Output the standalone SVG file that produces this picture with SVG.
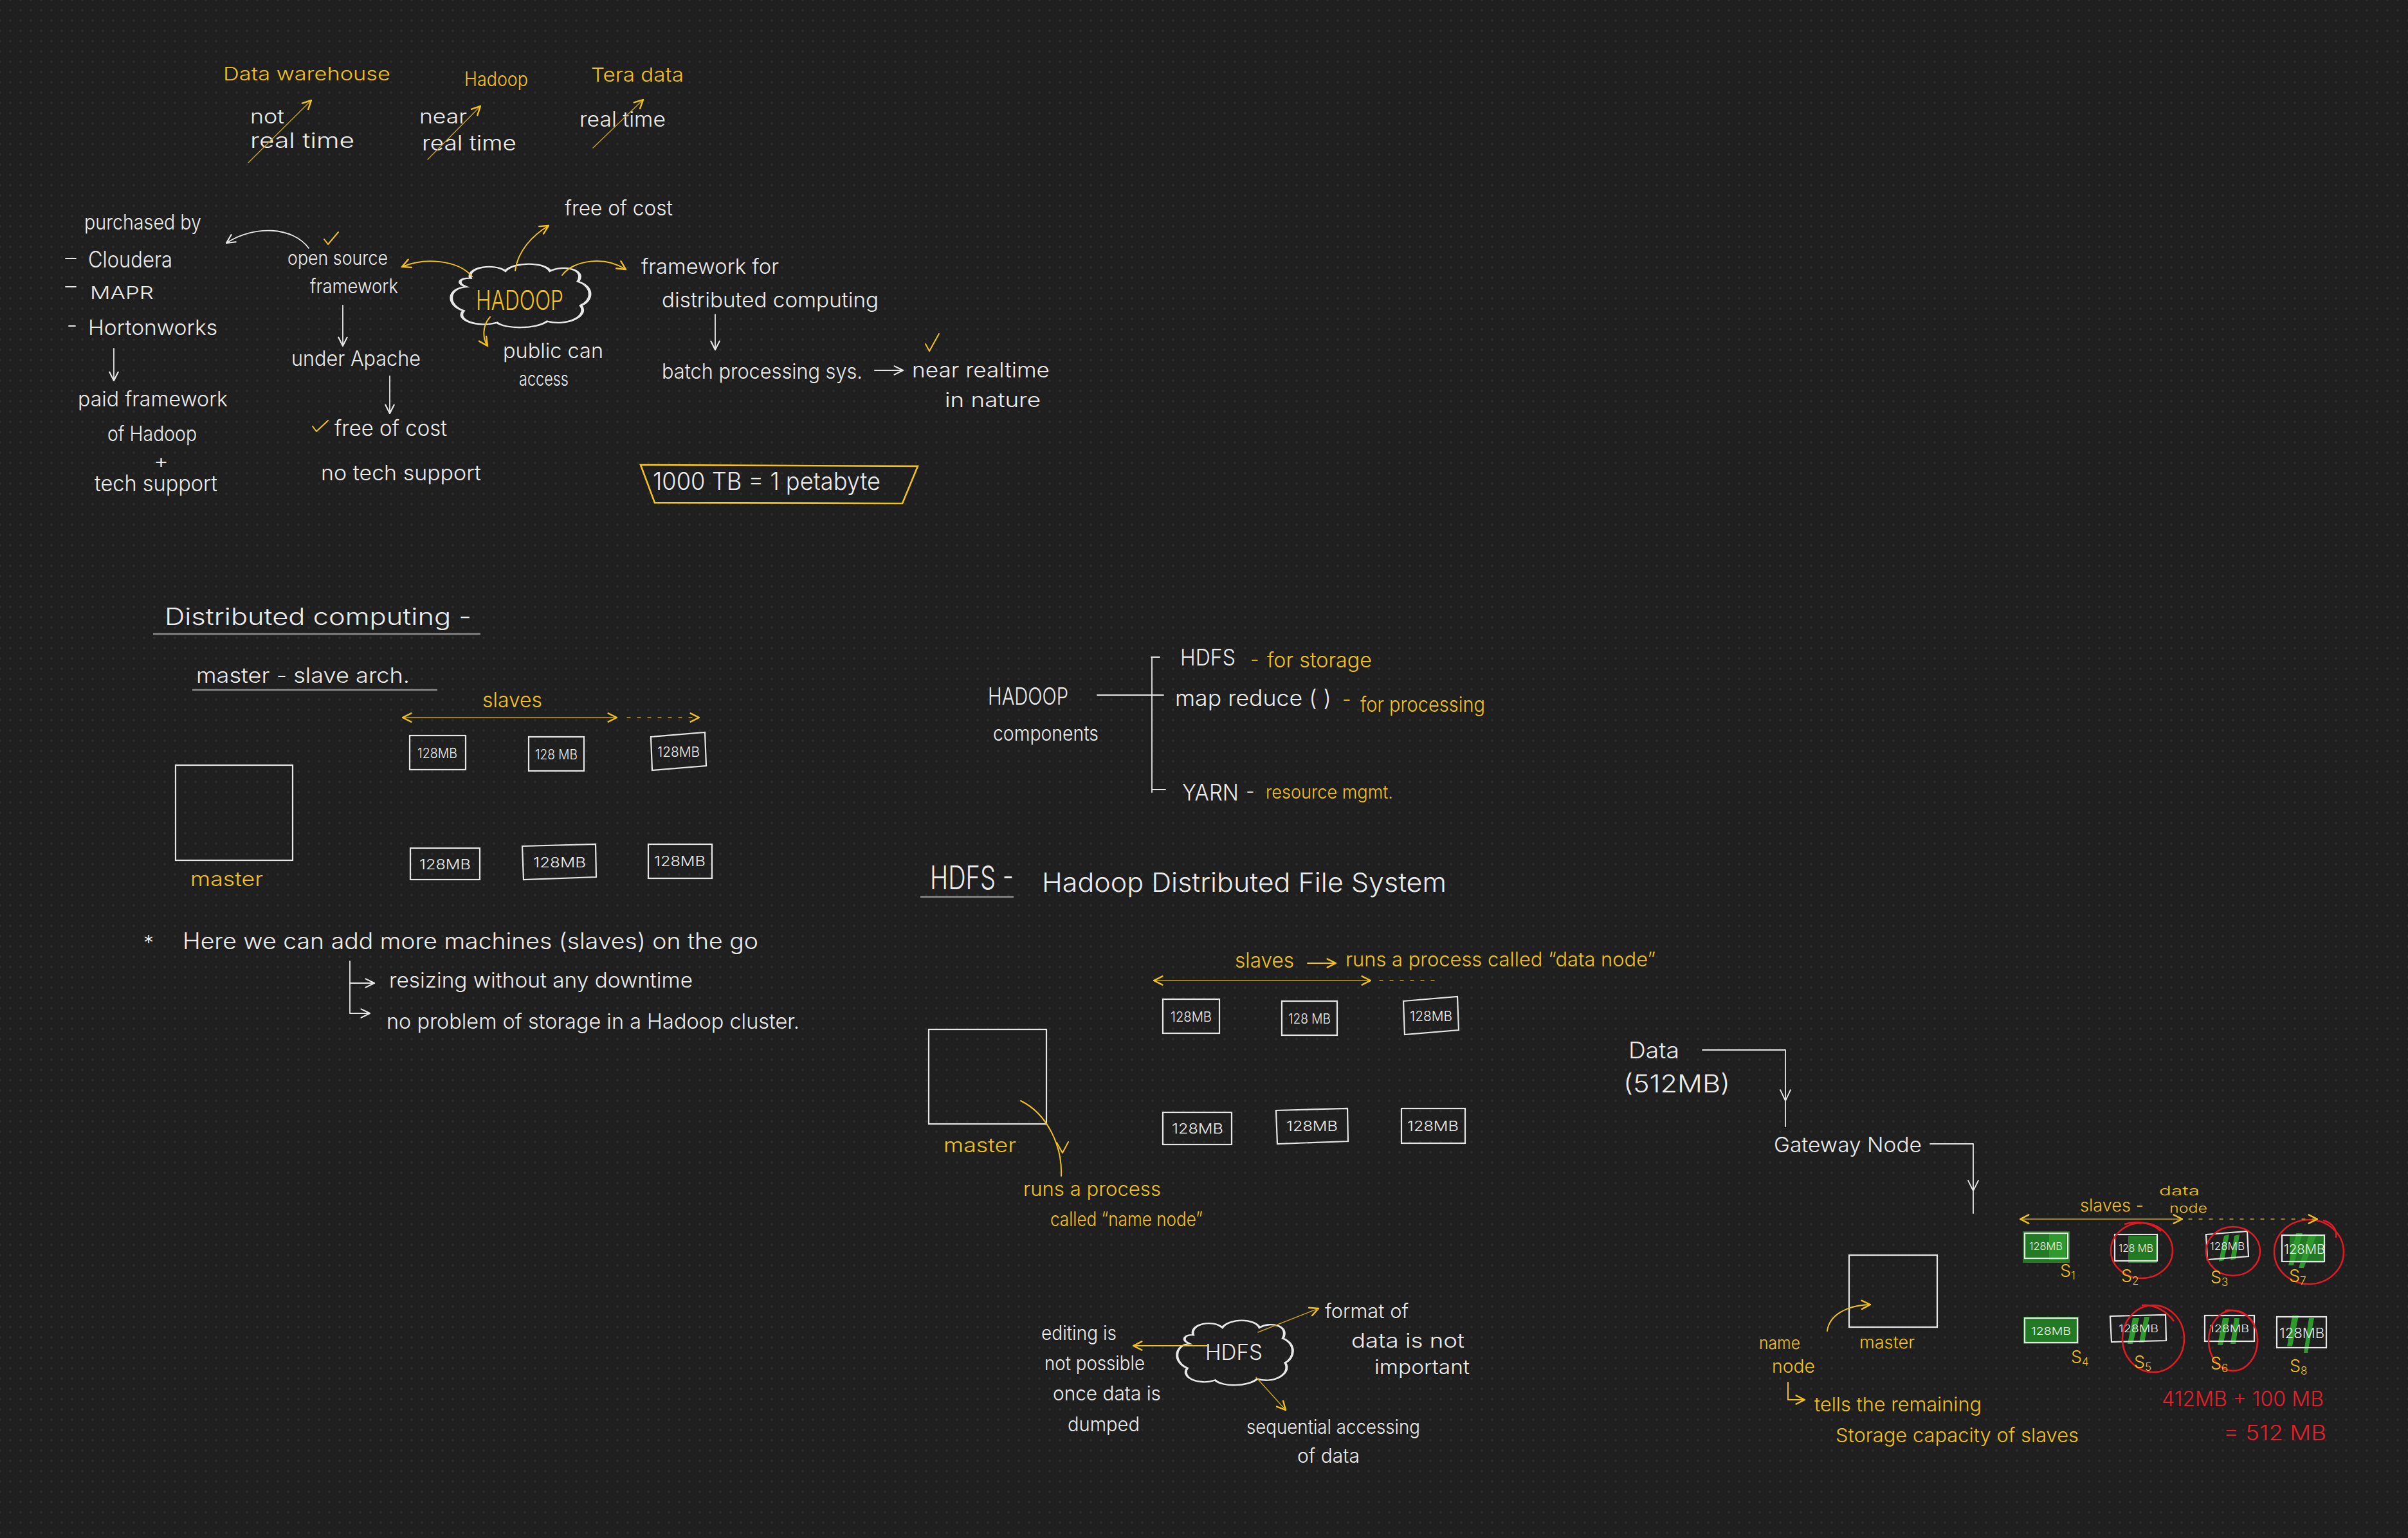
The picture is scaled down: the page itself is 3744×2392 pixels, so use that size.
<svg xmlns="http://www.w3.org/2000/svg" width="3744" height="2392" viewBox="0 0 3744 2392">
<defs>
  <pattern id="dots" x="8" y="8" width="16" height="16" patternUnits="userSpaceOnUse">
    <circle cx="8" cy="8" r="1.7" fill="#2d2d2d"/>
  </pattern>
  <!-- normalised cloud outline, 0..100 in both axes -->
  <path id="cloud" d="M15,25 C12,8 32,2 40,14 C46,0 68,0 72,14 C82,4 98,12 92,30 C104,38 102,60 94,66 C100,82 84,98 70,90 C62,102 40,102 34,92 C20,100 4,88 10,74 C-2,66 -2,40 12,38 C4,32 8,24 15,25 Z"/>
  <marker id="aw" viewBox="0 0 12 12" refX="11" refY="6" markerWidth="16" markerHeight="16" markerUnits="userSpaceOnUse" orient="auto-start-reverse">
    <path d="M1,1 L11,6 L1,11" fill="none" stroke="#e8e8e8" stroke-width="1.6" stroke-linecap="round"/>
  </marker>
  <marker id="ay" viewBox="0 0 12 12" refX="11" refY="6" markerWidth="16" markerHeight="16" markerUnits="userSpaceOnUse" orient="auto-start-reverse">
    <path d="M1,1 L11,6 L1,11" fill="none" stroke="#f2c21b" stroke-width="1.8" stroke-linecap="round"/>
  </marker>
  <style>
    text { font-family: Inter, "Liberation Sans", "Noto Sans", sans-serif; font-weight: 300; }
    .w { fill: #ececec; }
    .y { fill: #f2c21b; }
    .r { fill: #e5202a; }
    .box { fill: none; stroke: #e6e6e6; stroke-width: 2.2; }
    .lw { fill: none; stroke: #e6e6e6; stroke-width: 1.8; stroke-linecap: round; stroke-linejoin: round; }
    .ly { fill: none; stroke: #f2c21b; stroke-width: 2; stroke-linecap: round; stroke-linejoin: round; }
    .lyt { fill: none; stroke: #c9a316; stroke-width: 1.4; stroke-linecap: round; }
    .dash { stroke-dasharray: 5 11; }
    .ul { stroke: #8c8c8c; stroke-width: 2.5; }
    .cl { fill: none; stroke: #e8e8e8; stroke-width: 2.2; }
    .red { fill: none; stroke: #e01b24; stroke-width: 2.6; }
    .gr { fill: #237a25; }
    .gs { fill: #2e9a2e; }
    .mb { font-size: 22px; }
    .sb { font-size: 16px; }
  </style>
</defs>

<rect width="3744" height="2392" fill="#1f1f1f"/>
<rect width="3744" height="2392" fill="url(#dots)"/>

<!-- ===== comparison: warehouse / hadoop / teradata ===== -->
<g id="warehouse">
  <text class="y" x="347" y="125" font-size="28" textLength="260" lengthAdjust="spacingAndGlyphs">Data warehouse</text>
  <text class="w" x="389" y="192" font-size="30" textLength="53" lengthAdjust="spacingAndGlyphs">not</text>
  <text class="w" x="389" y="230" font-size="32" textLength="162" lengthAdjust="spacingAndGlyphs">real time</text>
</g>
<g id="hadoop-rt">
  <text class="y" x="722" y="134" font-size="31" textLength="99" lengthAdjust="spacingAndGlyphs">Hadoop</text>
  <text class="w" x="652" y="192" font-size="30" textLength="74" lengthAdjust="spacingAndGlyphs">near</text>
  <text class="w" x="656" y="234" font-size="32" textLength="147" lengthAdjust="spacingAndGlyphs">real time</text>
</g>
<g id="teradata">
  <text class="y" x="919" y="127" font-size="30" textLength="144" lengthAdjust="spacingAndGlyphs">Tera data</text>
  <text class="w" x="901" y="197" font-size="32" textLength="134" lengthAdjust="spacingAndGlyphs">real time</text>
</g>

<!-- ===== hadoop overview ===== -->
<g id="purchased">
  <text class="w" x="131" y="357" font-size="33" textLength="182" lengthAdjust="spacingAndGlyphs">purchased by</text>
  <text class="w" x="137" y="416" font-size="35" textLength="131" lengthAdjust="spacingAndGlyphs">Cloudera</text>
  <text class="w" x="140" y="465" font-size="27" textLength="99" lengthAdjust="spacingAndGlyphs">MAPR</text>
  <text class="w" x="137" y="521" font-size="33" textLength="201" lengthAdjust="spacingAndGlyphs">Hortonworks</text>
  <path class="lw" d="M102,402 H118 M102,446 H118 M107,507 H117"/>
</g>
<g id="paid">
  <text class="w" x="121" y="632" font-size="33" textLength="233" lengthAdjust="spacingAndGlyphs">paid framework</text>
  <text class="w" x="167" y="686" font-size="33" textLength="139" lengthAdjust="spacingAndGlyphs">of Hadoop</text>
  <text class="w" x="239" y="728" font-size="30" textLength="23" lengthAdjust="spacingAndGlyphs">+</text>
  <text class="w" x="147" y="764" font-size="35" textLength="191" lengthAdjust="spacingAndGlyphs">tech support</text>
</g>
<g id="opensource">
  <text class="w" x="447" y="412" font-size="31" textLength="156" lengthAdjust="spacingAndGlyphs">open source</text>
  <text class="w" x="482" y="456" font-size="31" textLength="137" lengthAdjust="spacingAndGlyphs">framework</text>
  <path class="ly" d="M504,372 L510,380 L526,361"/>
</g>
<g id="apache">
  <text class="w" x="453" y="569" font-size="33" textLength="201" lengthAdjust="spacingAndGlyphs">under Apache</text>
</g>
<g id="freecost1">
  <path class="ly" d="M486,663 L492,671 L510,654"/>
  <text class="w" x="520" y="678" font-size="35" textLength="175" lengthAdjust="spacingAndGlyphs">free of cost</text>
  <text class="w" x="499" y="747" font-size="33" textLength="249" lengthAdjust="spacingAndGlyphs">no tech support</text>
</g>
<g id="hadoop-cloud">
  <use href="#cloud" class="cl" vector-effect="non-scaling-stroke" transform="translate(699,407) scale(2.17,1.03)"/>
  <text class="y" x="740" y="482" font-size="42" textLength="136" lengthAdjust="spacingAndGlyphs">HADOOP</text>
</g>
<g id="freecost2">
  <text class="w" x="878" y="335" font-size="33" textLength="168" lengthAdjust="spacingAndGlyphs">free of cost</text>
</g>
<g id="public">
  <text class="w" x="782" y="557" font-size="33" textLength="156" lengthAdjust="spacingAndGlyphs">public can</text>
  <text class="w" x="807" y="600" font-size="31" textLength="77" lengthAdjust="spacingAndGlyphs">access</text>
</g>
<g id="framework">
  <text class="w" x="997" y="426" font-size="33" textLength="214" lengthAdjust="spacingAndGlyphs">framework for</text>
  <text class="w" x="1029" y="478" font-size="33" textLength="337" lengthAdjust="spacingAndGlyphs">distributed computing</text>
</g>
<g id="batch">
  <text class="w" x="1029" y="589" font-size="33" textLength="312" lengthAdjust="spacingAndGlyphs">batch processing sys.</text>
</g>
<g id="nearrt">
  <path class="ly" d="M1439,535 L1445,546 L1460,519"/>
  <text class="w" x="1418" y="587" font-size="33" textLength="214" lengthAdjust="spacingAndGlyphs">near realtime</text>
  <text class="w" x="1469" y="633" font-size="31" textLength="149" lengthAdjust="spacingAndGlyphs">in nature</text>
</g>
<g id="petabyte">
  <polygon points="996,723 1427,725 1403,783 1018,782" fill="none" stroke="#f2c21b" stroke-width="2.6"/>
  <text class="w" x="1015" y="762" font-size="38" textLength="354" lengthAdjust="spacingAndGlyphs">1000 TB = 1 petabyte</text>
</g>

<!-- ===== distributed computing ===== -->
<g id="dist-title">
  <text class="w" x="256" y="972" font-size="37" textLength="477" lengthAdjust="spacingAndGlyphs">Distributed computing -</text>
  <line class="ul" x1="238" y1="986" x2="747" y2="986"/>
  <text class="w" x="305" y="1062" font-size="33" textLength="332" lengthAdjust="spacingAndGlyphs">master - slave arch.</text>
  <line class="ul" x1="299" y1="1073" x2="680" y2="1073" stroke-width="1.6"/>
</g>
<g id="dc-slaves">
  <text class="y" x="750" y="1100" font-size="33" textLength="93" lengthAdjust="spacingAndGlyphs">slaves</text>
  <rect class="box" x="637" y="1144" width="87" height="53"/>
  <text class="w mb" x="680" y="1179" text-anchor="middle" textLength="62" lengthAdjust="spacingAndGlyphs">128MB</text>
  <rect class="box" x="822" y="1146" width="86" height="53"/>
  <text class="w mb" x="865" y="1181" text-anchor="middle" textLength="66" lengthAdjust="spacingAndGlyphs">128 MB</text>
  <polygon class="box" points="1012,1146 1096,1139 1098,1191 1014,1198"/>
  <text class="w mb" x="1055" y="1177" text-anchor="middle" textLength="66" lengthAdjust="spacingAndGlyphs">128MB</text>
  <rect class="box" x="638" y="1319" width="108" height="49"/>
  <text class="w mb" x="692" y="1352" text-anchor="middle" textLength="80" lengthAdjust="spacingAndGlyphs">128MB</text>
  <polygon class="box" points="812,1316 926,1313 927,1364 814,1368"/>
  <text class="w mb" x="870" y="1349" text-anchor="middle" textLength="82" lengthAdjust="spacingAndGlyphs">128MB</text>
  <rect class="box" x="1008" y="1313" width="99" height="53"/>
  <text class="w mb" x="1057" y="1347" text-anchor="middle" textLength="80" lengthAdjust="spacingAndGlyphs">128MB</text>
</g>
<g id="dc-master">
  <rect class="box" x="273" y="1190" width="182" height="148"/>
  <text class="y" x="296" y="1378" font-size="31" textLength="113" lengthAdjust="spacingAndGlyphs">master</text>
</g>
<g id="dc-note">
  <text class="w" x="223" y="1478" font-size="32">*</text>
  <text class="w" x="284" y="1476" font-size="35" textLength="895" lengthAdjust="spacingAndGlyphs">Here we can add more machines (slaves) on the go</text>
  <text class="w" x="605" y="1536" font-size="33" textLength="472" lengthAdjust="spacingAndGlyphs">resizing without any downtime</text>
  <text class="w" x="601" y="1600" font-size="33" textLength="642" lengthAdjust="spacingAndGlyphs">no problem of storage in a Hadoop cluster.</text>
</g>

<!-- ===== hadoop components ===== -->
<g id="components">
  <text class="w" x="1536" y="1096" font-size="37" textLength="125" lengthAdjust="spacingAndGlyphs">HADOOP</text>
  <text class="w" x="1544" y="1152" font-size="33" textLength="164" lengthAdjust="spacingAndGlyphs">components</text>
</g>
<g id="comp-hdfs">
  <text class="w" x="1835" y="1035" font-size="35" textLength="86" lengthAdjust="spacingAndGlyphs">HDFS</text>
  <text class="y" x="1944" y="1036" font-size="30">-</text>
  <text class="y" x="1970" y="1038" font-size="33" textLength="163" lengthAdjust="spacingAndGlyphs">for storage</text>
</g>
<g id="comp-mr">
  <text class="w" x="1827" y="1098" font-size="35" textLength="243" lengthAdjust="spacingAndGlyphs">map reduce ( )</text>
  <text class="y" x="2087" y="1098" font-size="30">-</text>
  <text class="y" x="2115" y="1107" font-size="33" textLength="194" lengthAdjust="spacingAndGlyphs">for processing</text>
</g>
<g id="comp-yarn">
  <text class="w" x="1838" y="1245" font-size="36" textLength="88" lengthAdjust="spacingAndGlyphs">YARN</text>
  <text class="w" x="1937" y="1241" font-size="30">-</text>
  <text class="y" x="1968" y="1242" font-size="29" textLength="198" lengthAdjust="spacingAndGlyphs">resource mgmt.</text>
</g>

<!-- ===== HDFS ===== -->
<g id="hdfs-title">
  <text class="w" x="1446" y="1383" font-size="50" textLength="130" lengthAdjust="spacingAndGlyphs">HDFS -</text>
  <line class="ul" x1="1431" y1="1395" x2="1576" y2="1395" stroke-width="1.6"/>
  <text class="w" x="1620" y="1387" font-size="41" textLength="629" lengthAdjust="spacingAndGlyphs">Hadoop Distributed File System</text>
</g>
<g id="hdfs-slaves">
  <text class="y" x="1920" y="1505" font-size="33" textLength="92" lengthAdjust="spacingAndGlyphs">slaves</text>
  <text class="y" x="2092" y="1503" font-size="31" textLength="482" lengthAdjust="spacingAndGlyphs">runs a process called “data node”</text>
  <rect class="box" x="1808" y="1554" width="88" height="53"/>
  <text class="w mb" x="1852" y="1589" text-anchor="middle" textLength="64" lengthAdjust="spacingAndGlyphs">128MB</text>
  <rect class="box" x="1993" y="1557" width="86" height="53"/>
  <text class="w mb" x="2036" y="1592" text-anchor="middle" textLength="66" lengthAdjust="spacingAndGlyphs">128 MB</text>
  <polygon class="box" points="2182,1557 2266,1550 2268,1602 2184,1609"/>
  <text class="w mb" x="2225" y="1588" text-anchor="middle" textLength="66" lengthAdjust="spacingAndGlyphs">128MB</text>
  <rect class="box" x="1808" y="1730" width="107" height="50"/>
  <text class="w mb" x="1862" y="1763" text-anchor="middle" textLength="80" lengthAdjust="spacingAndGlyphs">128MB</text>
  <polygon class="box" points="1984,1727 2095,1724 2096,1775 1986,1779"/>
  <text class="w mb" x="2040" y="1759" text-anchor="middle" textLength="80" lengthAdjust="spacingAndGlyphs">128MB</text>
  <rect class="box" x="2179" y="1724" width="99" height="54"/>
  <text class="w mb" x="2228" y="1759" text-anchor="middle" textLength="80" lengthAdjust="spacingAndGlyphs">128MB</text>
</g>
<g id="hdfs-master">
  <rect class="box" x="1444" y="1601" width="183" height="147"/>
  <text class="y" x="1467" y="1792" font-size="31" textLength="113" lengthAdjust="spacingAndGlyphs">master</text>
  <text class="y" x="1591" y="1860" font-size="31" textLength="214" lengthAdjust="spacingAndGlyphs">runs a process</text>
  <text class="y" x="1633" y="1907" font-size="31" textLength="237" lengthAdjust="spacingAndGlyphs">called “name node”</text>
</g>
<g id="hdfs-cloud">
  <use href="#cloud" class="cl" vector-effect="non-scaling-stroke" transform="translate(1828,2050) scale(1.81,1.05)"/>
  <text class="w" x="1874" y="2115" font-size="34" textLength="89" lengthAdjust="spacingAndGlyphs">HDFS</text>
</g>
<g id="hdfs-edit">
  <text class="w" x="1619" y="2084" font-size="31" textLength="117" lengthAdjust="spacingAndGlyphs">editing is</text>
  <text class="w" x="1624" y="2131" font-size="31" textLength="156" lengthAdjust="spacingAndGlyphs">not possible</text>
  <text class="w" x="1637" y="2178" font-size="31" textLength="168" lengthAdjust="spacingAndGlyphs">once data is</text>
  <text class="w" x="1660" y="2226" font-size="31" textLength="112" lengthAdjust="spacingAndGlyphs">dumped</text>
</g>
<g id="hdfs-format">
  <text class="w" x="2060" y="2050" font-size="31" textLength="130" lengthAdjust="spacingAndGlyphs">format of</text>
  <text class="w" x="2101" y="2096" font-size="31" textLength="176" lengthAdjust="spacingAndGlyphs">data is not</text>
  <text class="w" x="2137" y="2137" font-size="31" textLength="148" lengthAdjust="spacingAndGlyphs">important</text>
</g>
<g id="hdfs-seq">
  <text class="w" x="1938" y="2230" font-size="31" textLength="270" lengthAdjust="spacingAndGlyphs">sequential accessing</text>
  <text class="w" x="2017" y="2275" font-size="31" textLength="97" lengthAdjust="spacingAndGlyphs">of data</text>
</g>

<!-- ===== data write flow ===== -->
<g id="data-in">
  <text class="w" x="2532" y="1646" font-size="35" textLength="79" lengthAdjust="spacingAndGlyphs">Data</text>
  <text class="w" x="2524" y="1699" font-size="38" textLength="166" lengthAdjust="spacingAndGlyphs">(512MB)</text>
</g>
<g id="gateway">
  <text class="w" x="2758" y="1792" font-size="33" textLength="230" lengthAdjust="spacingAndGlyphs">Gateway Node</text>
</g>
<g id="nn-master">
  <rect class="box" x="2875" y="1952" width="137" height="112"/>
  <text class="y" x="2891" y="2097" font-size="26" textLength="86" lengthAdjust="spacingAndGlyphs">master</text>
  <text class="y" x="2735" y="2098" font-size="26" textLength="64" lengthAdjust="spacingAndGlyphs">name</text>
  <text class="y" x="2755" y="2135" font-size="28" textLength="67" lengthAdjust="spacingAndGlyphs">node</text>
  <text class="y" x="2821" y="2195" font-size="30" textLength="260" lengthAdjust="spacingAndGlyphs">tells the remaining</text>
  <text class="y" x="2854" y="2243" font-size="30" textLength="378" lengthAdjust="spacingAndGlyphs">Storage capacity of slaves</text>
</g>
<g id="datanodes">
  <text class="y" x="3234" y="1884" font-size="27" textLength="99" lengthAdjust="spacingAndGlyphs">slaves -</text>
  <text class="y" x="3357" y="1859" font-size="20" textLength="63" lengthAdjust="spacingAndGlyphs">data</text>
  <text class="y" x="3373" y="1886" font-size="20" textLength="59" lengthAdjust="spacingAndGlyphs">node</text>
</g>
<g id="s1">
  <rect class="gr" x="3145" y="1915" width="73" height="49"/>
  <rect class="gs" x="3186" y="1918" width="26" height="42"/>
  <rect class="box" x="3148" y="1918" width="67" height="39"/>
  <text class="w sb" x="3181" y="1944" text-anchor="middle" textLength="52" lengthAdjust="spacingAndGlyphs">128MB</text>
  <text class="y" x="3203" y="1986" font-size="27">S<tspan font-size="17" dy="4">1</tspan></text>
</g>
<g id="s2">
  <rect class="gr" x="3309" y="1922" width="45" height="42"/>
  <rect class="box" x="3288" y="1920" width="66" height="41"/>
  <text class="w sb" x="3321" y="1947" text-anchor="middle" textLength="54" lengthAdjust="spacingAndGlyphs">128 MB</text>
  <ellipse class="red" cx="3330" cy="1945" rx="48" ry="43"/>
  <path class="red" d="M3303,1904 C3322,1898 3345,1901 3360,1915" stroke-width="1.6"/>
  <text class="y" x="3298" y="1994" font-size="27">S<tspan font-size="17" dy="4">2</tspan></text>
</g>
<g id="s3">
  <polygon class="gs" points="3458,1922 3466,1920 3458,1960 3450,1962"/>
  <polygon class="gs" points="3474,1922 3482,1920 3476,1958 3468,1960"/>
  <polygon class="box" points="3430,1920 3494,1915 3496,1954 3432,1959"/>
  <text class="w sb" x="3463" y="1944" text-anchor="middle" textLength="54" lengthAdjust="spacingAndGlyphs">128MB</text>
  <ellipse class="red" cx="3472" cy="1946" rx="42" ry="38"/>
  <text class="y" x="3437" y="1996" font-size="27">S<tspan font-size="17" dy="4">3</tspan></text>
</g>
<g id="s7">
  <rect class="gr" x="3560" y="1922" width="54" height="42"/>
  <polygon class="gs" points="3570,1918 3580,1918 3566,1968 3558,1968"/>
  <polygon class="gs" points="3590,1920 3602,1920 3582,1972 3574,1972"/>
  <rect class="box" x="3548" y="1921" width="66" height="41"/>
  <text class="w" x="3583" y="1950" font-size="20" text-anchor="middle" textLength="64" lengthAdjust="spacingAndGlyphs">128MB</text>
  <ellipse class="red" cx="3590" cy="1947" rx="54" ry="50"/>
  <path class="red" d="M3612,1898 C3628,1902 3634,1914 3632,1925" stroke-width="1.6"/>
  <text class="y" x="3559" y="1994" font-size="27">S<tspan font-size="17" dy="4">7</tspan></text>
</g>
<g id="s4">
  <rect class="gr" x="3146" y="2048" width="86" height="42"/>
  <rect class="box" x="3148" y="2050" width="82" height="38"/>
  <text class="w sb" x="3189" y="2076" text-anchor="middle" textLength="62" lengthAdjust="spacingAndGlyphs">128MB</text>
  <text class="y" x="3220" y="2120" font-size="27">S<tspan font-size="17" dy="4">4</tspan></text>
</g>
<g id="s5">
  <polygon class="gs" points="3316,2050 3326,2050 3316,2090 3308,2090"/>
  <polygon class="gs" points="3334,2048 3342,2048 3334,2088 3326,2088"/>
  <polygon class="box" points="3281,2047 3367,2045 3368,2085 3283,2087"/>
  <text class="w sb" x="3325" y="2072" text-anchor="middle" textLength="62" lengthAdjust="spacingAndGlyphs">128MB</text>
  <ellipse class="red" cx="3348" cy="2082" rx="48" ry="52"/>
  <path class="red" d="M3330,2030 C3350,2028 3370,2040 3380,2055" stroke-width="1.6"/>
  <text class="y" x="3318" y="2128" font-size="27">S<tspan font-size="17" dy="4">5</tspan></text>
</g>
<g id="s6">
  <polygon class="gs" points="3456,2050 3466,2050 3456,2092 3448,2092"/>
  <polygon class="gs" points="3474,2050 3482,2050 3476,2090 3468,2090"/>
  <rect class="box" x="3428" y="2046" width="77" height="40"/>
  <text class="w sb" x="3466" y="2072" text-anchor="middle" textLength="62" lengthAdjust="spacingAndGlyphs">128MB</text>
  <ellipse class="red" cx="3472" cy="2085" rx="38" ry="47"/>
  <path class="red" d="M3460,2038 C3480,2036 3498,2045 3505,2060" stroke-width="1.6"/>
  <text class="y" x="3437" y="2130" font-size="27">S<tspan font-size="17" dy="4">6</tspan></text>
</g>
<g id="s8">
  <polygon class="gs" points="3564,2046 3574,2046 3564,2094 3556,2094"/>
  <polygon class="gs" points="3590,2050 3598,2050 3588,2104 3582,2104"/>
  <rect class="box" x="3540" y="2048" width="77" height="48"/>
  <text class="w" x="3579" y="2081" font-size="21" text-anchor="middle" textLength="70" lengthAdjust="spacingAndGlyphs">128MB</text>
  <text class="y" x="3560" y="2134" font-size="27">S<tspan font-size="17" dy="4">8</tspan></text>
</g>
<g id="total">
  <text class="r" x="3361" y="2187" font-size="32" textLength="252" lengthAdjust="spacingAndGlyphs">412MB + 100 MB</text>
  <text class="r" x="3457" y="2240" font-size="32" textLength="160" lengthAdjust="spacingAndGlyphs">= 512 MB</text>
</g>

<!-- ===== connectors ===== -->
<g id="connectors">
  <!-- realtime comparison strokes -->
  <path class="lyt" d="M386,253 L484,156" marker-end="url(#ay)"/>
  <path class="lyt" d="M665,248 L747,165" marker-end="url(#ay)"/>
  <path class="lyt" d="M922,230 L1000,155" marker-end="url(#ay)"/>
  <!-- overview -->
  <path class="lw" d="M480,386 C455,352 395,350 352,378" marker-end="url(#aw)"/>
  <path class="lw" d="M177,542 V592" marker-end="url(#aw)"/>
  <path class="lw" d="M533,475 V538" marker-end="url(#aw)"/>
  <path class="lw" d="M606,585 V643" marker-end="url(#aw)"/>
  <path class="ly" d="M801,421 C805,390 828,366 853,351" marker-end="url(#ay)"/>
  <path class="ly" d="M874,428 C892,404 940,398 973,419" marker-end="url(#ay)"/>
  <path class="ly" d="M734,430 C712,404 660,400 625,415" marker-end="url(#ay)"/>
  <path class="ly" d="M762,493 C750,506 750,526 758,538" marker-end="url(#ay)"/>
  <path class="lw" d="M1112,489 V544" marker-end="url(#aw)"/>
  <path class="lw" d="M1360,576 H1404" marker-end="url(#aw)"/>
  <!-- distributed computing -->
  <path class="lyt" d="M626,1116 H959" marker-start="url(#ay)" marker-end="url(#ay)"/>
  <path class="lyt dash" d="M975,1116 H1087" marker-end="url(#ay)"/>
  <path class="lw" d="M544,1495 V1576 H575" marker-end="url(#aw)"/>
  <path class="lw" d="M544,1529 H582" marker-end="url(#aw)"/>
  <!-- components -->
  <path class="lw" d="M1706,1081 H1809 M1791,1022 V1232 M1790,1022 H1803 M1791,1228 H1812"/>
  <!-- hdfs -->
  <path class="ly" d="M2033,1498 H2077" marker-end="url(#ay)"/>
  <path class="lyt" d="M1794,1525 H2131" marker-start="url(#ay)" marker-end="url(#ay)"/>
  <path class="lyt dash" d="M2145,1525 H2238"/>
  <path class="ly" d="M1587,1712 C1628,1732 1652,1782 1650,1829"/>
  <path class="ly" d="M1643,1777 L1652,1793 L1661,1776"/>
  <path class="ly" d="M1877,2093 H1762" marker-end="url(#ay)"/>
  <path class="lyt" d="M1956,2072 L2050,2035" marker-end="url(#ay)"/>
  <path class="lyt" d="M1953,2142 L1999,2193" marker-end="url(#ay)"/>
  <!-- data write flow -->
  <path class="lw" d="M2647,1633 H2776 V1752 M2768,1695 L2776,1712 L2784,1695" stroke-width="1.4"/>
  <path class="lw" d="M3001,1779 H3068 V1887 M3060,1836 L3068,1852 L3076,1836" stroke-width="1.4"/>
  <path class="lyt" d="M3141,1896 H3393" marker-start="url(#ay)" marker-end="url(#ay)"/>
  <path class="lyt dash" d="M3403,1896 H3603" marker-end="url(#ay)"/>
  <path class="ly" d="M2841,2070 C2844,2046 2870,2030 2908,2029" marker-end="url(#ay)"/>
  <path class="ly" d="M2780,2150 V2177 H2806" marker-end="url(#ay)"/>
</g>
</svg>
